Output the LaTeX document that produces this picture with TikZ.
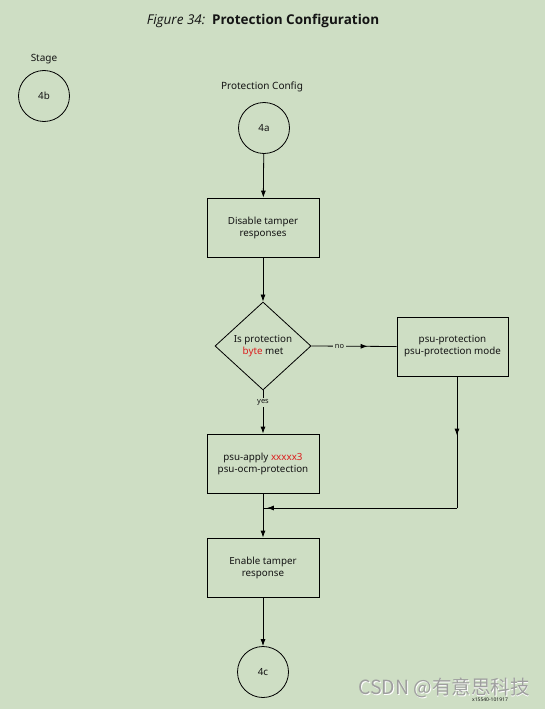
\documentclass[tikz,border=0pt]{standalone}
\usepackage{fontspec}
\setmainfont{Noto Sans}
\newfontfamily\titlefont{Open Sans}
\newfontfamily\cjk{Noto Sans CJK SC}
\usetikzlibrary{arrows.meta,shapes.geometric,decorations.markings}
\definecolor{bg}{RGB}{206,222,196}
\definecolor{redtxt}{RGB}{220,30,30}
\definecolor{ink}{RGB}{20,20,20}
\tikzset{
  x=1pt,y=-1pt,
  every node/.style={font=\fontsize{9.8}{12}\selectfont, text=ink},
  procbox/.style={draw, line width=0.8pt, minimum width=112pt, minimum height=59pt, align=center, inner sep=0pt},
  stagecircle/.style={draw, line width=0.8pt, circle, minimum size=51pt, inner sep=0pt},
  decision/.style={draw, line width=0.8pt, diamond, minimum width=96pt, minimum height=88pt, inner sep=0pt, align=center},
  conn/.style={line width=0.8pt, -{Latex[length=7pt,width=5pt]}},
  midarrow/.style={line width=0.8pt, postaction={decorate}, decoration={markings, mark=at position #1 with {\arrow{Latex[length=7pt,width=5pt]}}}},
  smalllabel/.style={font=\fontsize{7.5}{9}\selectfont, fill=bg, inner sep=1.5pt},
  toplabel/.style={font=\fontsize{10}{12}\selectfont},
}
\begin{document}
\begin{tikzpicture}
\fill[bg] (0,0) rectangle (545,709);
\useasboundingbox (0,0) rectangle (545,709);

\node (title) at (263,21) {\titlefont\fontsize{13.5}{16}\selectfont\itshape Figure 34:\enspace\upshape\bfseries Protection Configuration};

\node[toplabel] (stagelbl) at (44,59) {Stage};
\node[stagecircle] (s4b) at (44,96) {4b};

\node[toplabel] (pclbl) at (262,87) {Protection Config};
\node[stagecircle] (s4a) at (264,128) {4a};

\node[procbox] (disable) at (263,227.5) {Disable tamper\\responses};
\node[decision] (dec) at (263,346) {Is protection\\{\color{redtxt}byte} met};
\node[procbox, minimum width=111pt] (psuprot) at (452.5,346.5) {psu-protection\\psu-protection mode};
\node[procbox] (apply) at (263,463.5) {psu-apply {\color{redtxt}xxxxx3}\\psu-ocm-protection};
\node[procbox] (enable) at (263,567.5) {Enable tamper\\response};
\node[stagecircle] (s4c) at (263,672) {4c};

\coordinate (join) at (457,508);
\coordinate (merge) at (263,508);

\draw[conn] (s4a) -- (disable);
\draw[conn] (disable) -- (dec);
\draw[midarrow=0.66] (dec.east) -- node[smalllabel, pos=0.33] (nolbl) {no} (psuprot.west);
\draw[conn] (dec.south) -- node[smalllabel, pos=0.28] (yeslbl) {yes} (apply.north);
\draw[midarrow=0.45] (psuprot.south -| join) -- (join);
\draw[midarrow=0.98] (join) -- (merge);
\draw[conn] (apply) -- (enable);
\draw[conn] (enable) -- (s4c);

\node[font=\fontsize{5}{6}\selectfont] (fignum) at (490,700) {x15540-101917};
\node[font=\cjk\fontsize{19.5}{22}\selectfont, text=white] (wmshadow) at (444.8,688.8) {CSDN @有意思科技};
\node[font=\cjk\fontsize{19.5}{22}\selectfont, text=gray!75] (wm) at (444,688) {CSDN @有意思科技};
\end{tikzpicture}
\end{document}
